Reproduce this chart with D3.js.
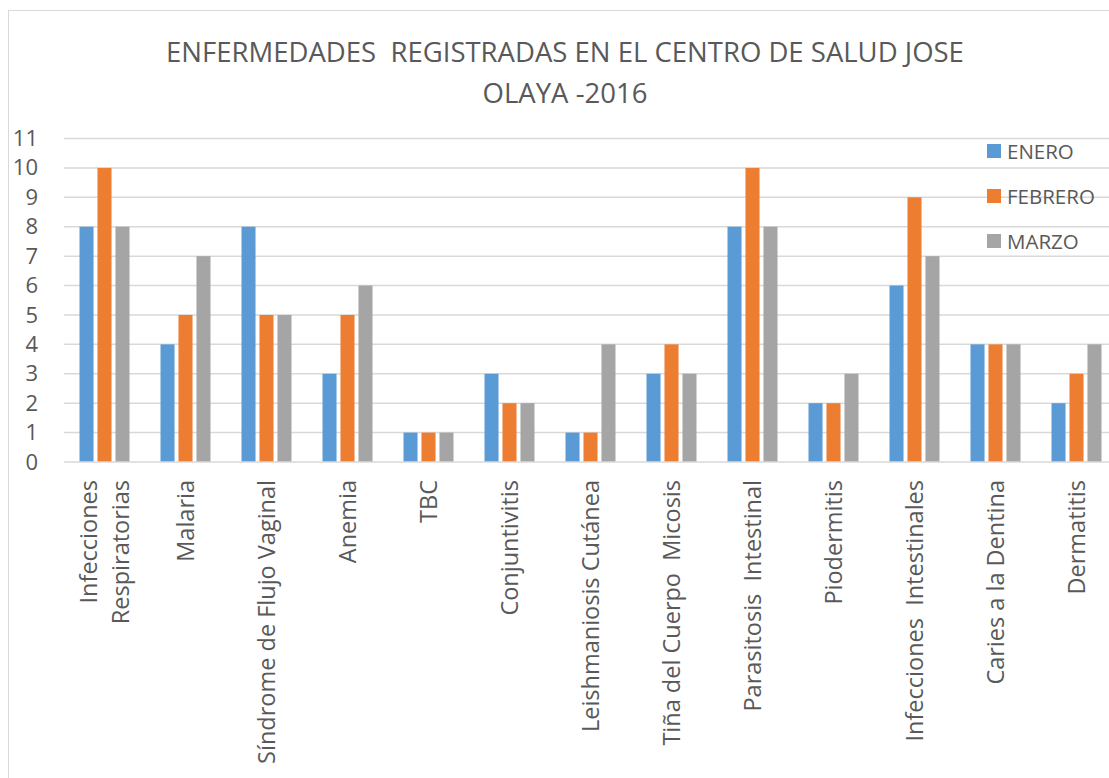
<!DOCTYPE html>
<html>
<head>
<meta charset="utf-8">
<script src="https://cdn.jsdelivr.net/npm/d3@7"></script>
<style>
  body { margin: 0; background: #fff; }
  text { font-family: "Open Sans", sans-serif; fill: #595959; }
</style>
</head>
<body>
<script>
// categories (one entry per line of the label)
var categories = [
    ["Infecciones", "Respiratorias"],
    ["Malaria"],
    ["Síndrome de Flujo Vaginal"],
    ["Anemia"],
    ["TBC"],
    ["Conjuntivitis"],
    ["Leishmaniosis Cutánea"],
    ["Tiña del Cuerpo  Micosis"],
    ["Parasitosis  Intestinal"],
    ["Piodermitis"],
    ["Infecciones  Intestinales"],
    ["Caries a la Dentina"],
    ["Dermatitis"]
];
var seriesNames = ["ENERO", "FEBRERO", "MARZO"];
var enero   = [8, 4, 8, 3, 1, 3, 1, 3, 8, 2, 6, 4, 2];
var febrero = [10, 5, 5, 5, 1, 2, 1, 4, 10, 2, 9, 4, 3];
var marzo   = [8, 7, 5, 6, 1, 2, 4, 3, 8, 3, 7, 4, 4];
var yTicks = [0, 1, 2, 3, 4, 5, 6, 7, 8, 9, 10, 11];
var colours = ["#5B9BD5", "#ED7D31", "#A5A5A5"];

window.onload = function(){
    drawChart()
};

function drawChart(){
    var svg = d3.select("body").append("svg").attr("width", 1109).attr("height", 778);

    // chart frame
    svg.append("rect")
        .attr("x", 8.5).attr("y", 10.5)
        .attr("width", 1200).attr("height", 800)
        .attr("fill", "none")
        .attr("stroke", "#d9d9d9");

    var left = 64, step = 81;
    var keys = categories.map(function(d, i){ return i; });
    var x0 = d3.scaleBand()
        .domain(keys)
        .range([left, left + step * categories.length]);
    var x1 = d3.scaleBand()
        .domain(seriesNames)
        .range([15.5, 65.5])
        .paddingInner(0.22);
    var y = d3.scaleLinear()
        .domain([0, 11])
        .range([462, 138.5]);

    // gridlines
    svg.append("g")
        .selectAll("line")
        .data(yTicks.slice(1))
        .enter()
        .append("line")
        .attr("x1", left).attr("x2", 1109)
        .attr("y1", function(d){ return y(d); })
        .attr("y2", function(d){ return y(d); })
        .attr("stroke", "#d9d9d9")
        .attr("stroke-width", 1.5);

    // y axis labels
    var yAxis = svg.append("g")
        .attr("transform", "translate(" + left + ",0)")
        .call(d3.axisLeft(y).tickValues(yTicks).tickSize(0).tickPadding(26).tickFormat(d3.format("d")));
    yAxis.select(".domain").remove();
    yAxis.selectAll("text")
        .attr("fill", "#595959")
        .style("font-family", "'Open Sans', sans-serif")
        .style("font-size", "22px");

    // bars
    var table = keys.map(function(i){
        return [enero[i], febrero[i], marzo[i]];
    });
    var groups = svg.append("g")
        .selectAll("g")
        .data(table)
        .enter()
        .append("g")
        .attr("transform", function(d, i){ return "translate(" + x0(i) + ",0)"; });
    groups.selectAll("rect")
        .data(function(d){ return d.map(function(v, j){ return {key: seriesNames[j], value: v, c: colours[j]}; }); })
        .enter()
        .append("rect")
        .attr("x", function(d){ return x1(d.key); })
        .attr("width", x1.bandwidth())
        .attr("y", function(d){ return y(d.value); })
        .attr("height", function(d){ return y(0) - y(d.value); })
        .attr("fill", function(d){ return d.c; });

    // baseline
    svg.append("line")
        .attr("x1", left).attr("x2", 1109)
        .attr("y1", y(0)).attr("y2", y(0))
        .attr("stroke", "#d9d9d9")
        .attr("stroke-width", 1.5);

    // x labels (rotated)
    var labels = svg.append("g")
        .selectAll("text")
        .data(categories)
        .enter()
        .append("text")
        .attr("transform", function(d, i){
            return "translate(" + (x0(i) + x0.bandwidth() / 2) + ",480) rotate(-90)";
        })
        .style("text-anchor", "end")
        .style("font-size", "23.5px")
        .style("white-space", "pre");
    labels.each(function(d){
        var t = d3.select(this);
        var n = d.length;
        d.forEach(function(line, k){
            t.append("tspan")
                .attr("x", 0)
                .attr("y", (k - (n - 1) / 2) * 32 + 8.5)
                .text(line);
        });
    });

    // legend
    var legend = svg.append("g")
        .selectAll("g")
        .data(seriesNames)
        .enter()
        .append("g")
        .attr("transform", function(d, i){ return "translate(987," + (144 + i * 45) + ")"; });
    legend.append("rect")
        .attr("width", 14).attr("height", 14)
        .attr("fill", function(d, i){ return colours[i]; });
    legend.append("text")
        .attr("x", 20).attr("y", 14.5)
        .style("font-size", "20.5px")
        .text(function(d){ return d; });

    // title
    var title = svg.append("text")
        .attr("x", 565)
        .style("text-anchor", "middle")
        .style("font-size", "27.5px")
        .style("white-space", "pre");
    title.append("tspan").attr("x", 565).attr("y", 62)
        .text("ENFERMEDADES  REGISTRADAS EN EL CENTRO DE SALUD JOSE");
    title.append("tspan").attr("x", 565).attr("y", 103)
        .text("OLAYA -2016");
}
</script>
</body>
</html>
